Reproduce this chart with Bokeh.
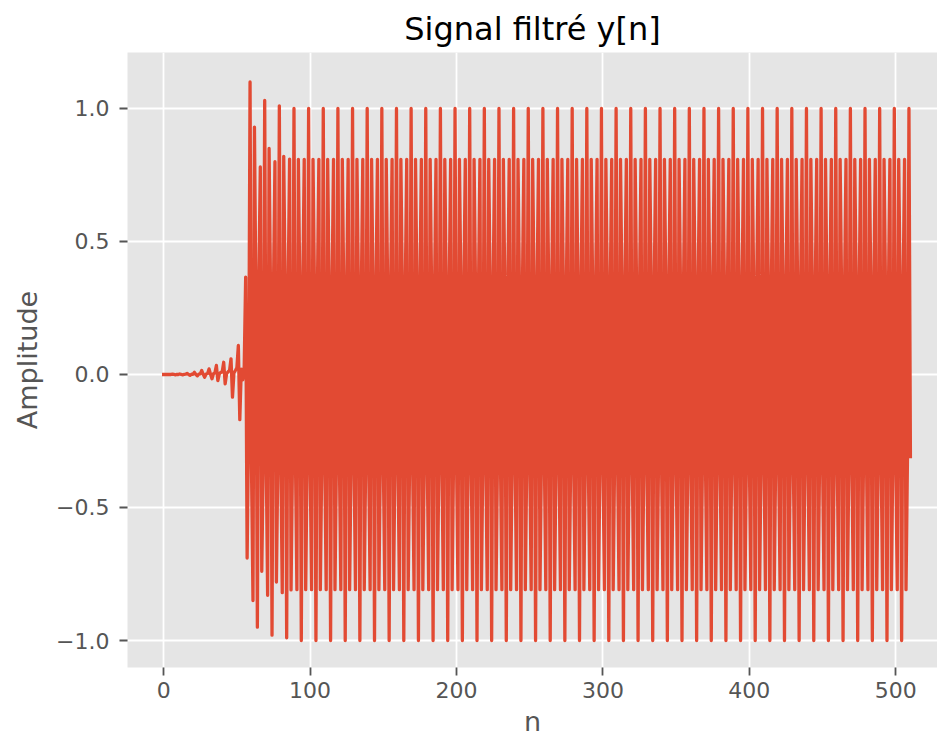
from bokeh.plotting import figure
from bokeh.models import Range1d, FixedTicker, CustomJSTickFormatter
from bokeh.embed import file_html
from bokeh.resources import INLINE

title_text = "Signal filtré y[n]"
x_label = "n"
y_label = "Amplitude"
x_ticks = [0, 100, 200, 300, 400, 500]
y_ticks = [-1.0, -0.5, 0.0, 0.5, 1.0]

# filtered signal y[n], n = 0 .. 510
y_filtered = [
    0.0, 0.0, 0.0, 0.0, 0.0, 0.0, 0.001, 0.0, -0.001, 0.0,
    0.0, 0.002, 0.0, -0.001, 0.0, 0.001, 0.004, 0.0, -0.003, 0.001,
    0.001, 0.008, 0.0, -0.005, 0.001, 0.002, 0.015, 0.001, -0.010, 0.002,
    0.004, 0.021, 0.001, -0.016, 0.003, 0.006, 0.034, -0.023, 0.002, 0.008,
    0.010, 0.046, -0.035, 0.004, 0.010, 0.015, 0.059, -0.085, 0.006, 0.015,
    0.025, 0.109, -0.170, 0.020, -0.020, 0.030, 0.366, -0.690, -0.200,
    1.100, -0.350, -0.850, 0.930, 0.280, -0.950, 0.350, 0.780, -0.740, -0.330,
    1.030, -0.290, -0.830, 0.850, 0.300, -0.980, 0.320, 0.800, -0.780, -0.310,
    1.010, -0.310, -0.820, 0.820, 0.310, -0.990, 0.310, 0.810, -0.810, -0.310,
    1.0, -0.309, -0.809, 0.809, 0.309, -1.0, 0.309, 0.809, -0.809, -0.309,
    1.0, -0.309, -0.809, 0.809, 0.309, -1.0, 0.309, 0.809, -0.809, -0.309,
    1.0, -0.309, -0.809, 0.809, 0.309, -1.0, 0.309, 0.809, -0.809, -0.309,
    1.0, -0.309, -0.809, 0.809, 0.309, -1.0, 0.309, 0.809, -0.809, -0.309,
    1.0, -0.309, -0.809, 0.809, 0.309, -1.0, 0.309, 0.809, -0.809, -0.309,
    1.0, -0.309, -0.809, 0.809, 0.309, -1.0, 0.309, 0.809, -0.809, -0.309,
    1.0, -0.309, -0.809, 0.809, 0.309, -1.0, 0.309, 0.809, -0.809, -0.309,
    1.0, -0.309, -0.809, 0.809, 0.309, -1.0, 0.309, 0.809, -0.809, -0.309,
    1.0, -0.309, -0.809, 0.809, 0.309, -1.0, 0.309, 0.809, -0.809, -0.309,
    1.0, -0.309, -0.809, 0.809, 0.309, -1.0, 0.309, 0.809, -0.809, -0.309,
    1.0, -0.309, -0.809, 0.809, 0.309, -1.0, 0.309, 0.809, -0.809, -0.309,
    1.0, -0.309, -0.809, 0.809, 0.309, -1.0, 0.309, 0.809, -0.809, -0.309,
    1.0, -0.309, -0.809, 0.809, 0.309, -1.0, 0.309, 0.809, -0.809, -0.309,
    1.0, -0.309, -0.809, 0.809, 0.309, -1.0, 0.309, 0.809, -0.809, -0.309,
    1.0, -0.309, -0.809, 0.809, 0.309, -1.0, 0.309, 0.809, -0.809, -0.309,
    1.0, -0.309, -0.809, 0.809, 0.309, -1.0, 0.309, 0.809, -0.809, -0.309,
    1.0, -0.309, -0.809, 0.809, 0.309, -1.0, 0.309, 0.809, -0.809, -0.309,
    1.0, -0.309, -0.809, 0.809, 0.309, -1.0, 0.309, 0.809, -0.809, -0.309,
    1.0, -0.309, -0.809, 0.809, 0.309, -1.0, 0.309, 0.809, -0.809, -0.309,
    1.0, -0.309, -0.809, 0.809, 0.309, -1.0, 0.309, 0.809, -0.809, -0.309,
    1.0, -0.309, -0.809, 0.809, 0.309, -1.0, 0.309, 0.809, -0.809, -0.309,
    1.0, -0.309, -0.809, 0.809, 0.309, -1.0, 0.309, 0.809, -0.809, -0.309,
    1.0, -0.309, -0.809, 0.809, 0.309, -1.0, 0.309, 0.809, -0.809, -0.309,
    1.0, -0.309, -0.809, 0.809, 0.309, -1.0, 0.309, 0.809, -0.809, -0.309,
    1.0, -0.309, -0.809, 0.809, 0.309, -1.0, 0.309, 0.809, -0.809, -0.309,
    1.0, -0.309, -0.809, 0.809, 0.309, -1.0, 0.309, 0.809, -0.809, -0.309,
    1.0, -0.309, -0.809, 0.809, 0.309, -1.0, 0.309, 0.809, -0.809, -0.309,
    1.0, -0.309, -0.809, 0.809, 0.309, -1.0, 0.309, 0.809, -0.809, -0.309,
    1.0, -0.309, -0.809, 0.809, 0.309, -1.0, 0.309, 0.809, -0.809, -0.309,
    1.0, -0.309, -0.809, 0.809, 0.309, -1.0, 0.309, 0.809, -0.809, -0.309,
    1.0, -0.309, -0.809, 0.809, 0.309, -1.0, 0.309, 0.809, -0.809, -0.309,
    1.0, -0.309, -0.809, 0.809, 0.309, -1.0, 0.309, 0.809, -0.809, -0.309,
    1.0, -0.309, -0.809, 0.809, 0.309, -1.0, 0.309, 0.809, -0.809, -0.309,
    1.0, -0.309, -0.809, 0.809, 0.309, -1.0, 0.309, 0.809, -0.809, -0.309,
    1.0, -0.309, -0.809, 0.809, 0.309, -1.0, 0.309, 0.809, -0.809, -0.309,
    1.0, -0.309, -0.809, 0.809, 0.309, -1.0, 0.309, 0.809, -0.809, -0.309,
    1.0, -0.309, -0.809, 0.809, 0.309, -1.0, 0.309, 0.809, -0.809, -0.309,
    1.0, -0.309, -0.809, 0.809, 0.309, -1.0, 0.309, 0.809, -0.809, -0.309,
    1.0, -0.309, -0.809, 0.809, 0.309, -1.0, 0.309, 0.809, -0.809, -0.309,
    1.0, -0.309, -0.809, 0.809, 0.309, -1.0, 0.309, 0.809, -0.809, -0.309,
    1.0, -0.309, -0.809, 0.809, 0.309, -1.0, 0.309, 0.809, -0.809, -0.309,
    1.0, -0.309, -0.809, 0.809, 0.309, -1.0, 0.309, 0.809, -0.809, -0.309,
    1.0, -0.309,
]
n_index = list(range(len(y_filtered)))

FONT = "DejaVu Sans"

p = figure(
    width=937, height=740,
    output_backend="svg", toolbar_location=None,
    x_range=Range1d(-24.7, 528.5), y_range=Range1d(-1.1015, 1.2105),
    min_border_left=127, min_border_right=0,
    min_border_top=52, min_border_bottom=73,
    background_fill_color="#E5E5E5", border_fill_color="white",
    outline_line_color=None,
    title=title_text,
)

p.title.text_font = FONT
p.title.text_font_size = "32px"
p.title.text_font_style = "normal"
p.title.text_color = "black"
p.title.align = "center"
p.title.standoff = 9

p.line(n_index, y_filtered, line_color="#E24A33", line_width=3.3,
       line_join="round", line_cap="square")

p.grid.grid_line_color = "white"
p.grid.grid_line_width = 1.8
p.grid.minor_grid_line_color = None

p.xaxis.ticker = FixedTicker(ticks=x_ticks)
p.yaxis.ticker = FixedTicker(ticks=y_ticks)
p.yaxis.formatter = CustomJSTickFormatter(
    code="return tick < 0 ? '\u2212' + (-tick).toFixed(1) : tick.toFixed(1);")

for ax in (p.xaxis, p.yaxis):
    ax.axis_line_color = None
    ax.major_tick_in = 0
    ax.major_tick_out = 8
    ax.major_tick_line_color = "#555555"
    ax.major_tick_line_width = 1.8
    ax.minor_tick_line_color = None
    ax.major_label_text_font = FONT
    ax.major_label_text_font_size = "22px"
    ax.major_label_text_color = "#555555"
    ax.axis_label_text_font = FONT
    ax.axis_label_text_font_size = "27px"
    ax.axis_label_text_font_style = "normal"
    ax.axis_label_text_color = "#555555"

p.xaxis.axis_label = x_label
p.yaxis.axis_label = y_label
p.xaxis.major_label_standoff = 6
p.xaxis.axis_label_standoff = 5
p.yaxis.major_label_standoff = 10
p.yaxis.axis_label_standoff = 10

open("out.html", "w").write(file_html(p, INLINE))
